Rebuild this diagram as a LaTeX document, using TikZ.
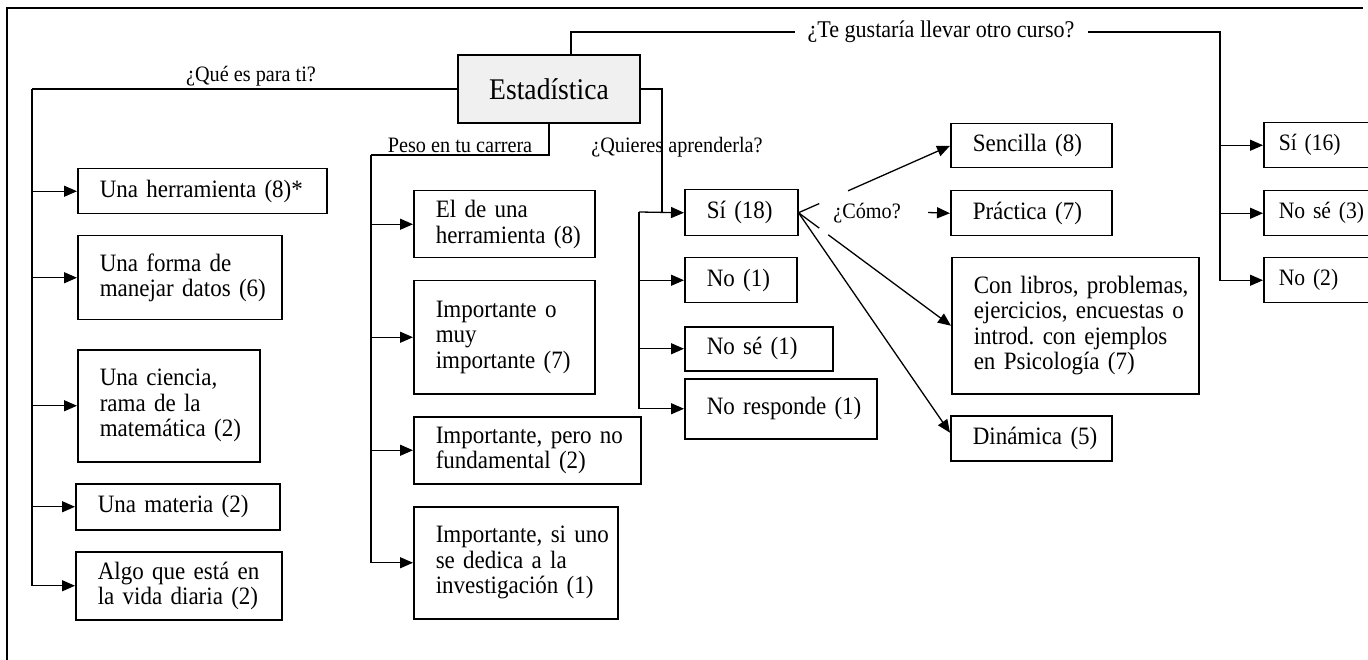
\documentclass[tikz,border=0pt]{standalone}
\usepackage{fontspec}
\setmainfont{Liberation Serif}[FakeStretch=0.92]
\usetikzlibrary{arrows.meta,calc}
\frenchspacing
\newcommand{\oneline}[1]{\mbox{#1}}
\begin{document}
\begin{tikzpicture}[x=1pt,y=-1pt,
  line width=1.3pt,
  box/.style={draw, line width=1.5pt, anchor=north west, inner xsep=22pt, inner ysep=2pt, align=left, font=\fontsize{25}{25.5}\selectfont},
  rbox/.style={box, inner xsep=15pt, text width=125pt, minimum height=45pt, font=\fontsize{23.5}{25}\selectfont},
  lbl/.style={inner sep=1pt, font=\fontsize{22}{23}\selectfont},
  arr/.style={-{Triangle[length=13pt,width=11pt]}},
]
\useasboundingbox (0,0) rectangle (1368,660);
\clip (0,0) rectangle (1368,660);

% outer frame
\draw[line width=1.5pt] (7,662) -- (7,8) -- (1363,8);

% central node
\node[draw, line width=2pt, fill=gray!12, minimum width=182pt, minimum height=68pt,
      font=\fontsize{30}{31}\selectfont] (est) at (549,89) {Estadística};

% column 1: ¿Qué es para ti?
\node[box, text width=205pt, minimum height=45pt] (b1) at (77,168) {\oneline{Una herramienta (8)*}};
\node[box, text width=160pt, minimum height=84pt] (b2) at (77,235) {\oneline{Una forma de}\\\oneline{manejar datos (6)}};
\node[box, text width=138pt, minimum height=112pt] (b3) at (77,349) {\oneline{Una ciencia,}\\\oneline{rama de la}\\\oneline{matemática (2)}};
\node[box, text width=160pt, minimum height=46pt] (b4) at (75,483) {\oneline{Una materia (2)}};
\node[box, text width=162pt, minimum height=68pt] (b5) at (75,551) {\oneline{Algo que está en}\\\oneline{la vida diaria (2)}};

\coordinate (ta) at (32,89);
\draw (est.west) -- (ta);
\draw[arr] (ta) |- (b5.west);
\foreach \n in {b1,b2,b3,b4} \draw[arr] (\n.west -| ta) -- (\n.west);
\node[lbl, anchor=south] (lq) at (251,88) {¿Qué es para ti?};

% column 2: Peso en tu carrera
\node[box, text width=137pt, minimum height=67pt] (p1) at (413,190) {\oneline{El de una}\\\oneline{herramienta (8)}};
\node[box, text width=137pt, minimum height=113pt] (p2) at (413,280) {\oneline{Importante o}\\\oneline{muy}\\\oneline{importante (7)}};
\node[box, text width=183pt, minimum height=67pt] (p3) at (413,416) {\oneline{Importante, pero no}\\\oneline{fundamental (2)}};
\node[box, text width=160pt, minimum height=112pt] (p4) at (413,506) {\oneline{Importante, si uno}\\\oneline{se dedica a la}\\\oneline{investigación (1)}};

\coordinate (tb) at (371,155);
\draw (est.south) |- (tb);
\draw[arr] (tb) |- (p4.west);
\foreach \n in {p1,p2,p3} \draw[arr] (\n.west -| tb) -- (\n.west);
\node[lbl, anchor=south] (lp) at (460,154) {Peso en tu carrera};

% column 3: ¿Quieres aprenderla?
\node[box, text width=69pt, minimum height=46pt] (si) at (684,189) {\oneline{Sí (18)}};
\node[box, text width=68pt, minimum height=45pt] (no) at (684,257) {\oneline{No (1)}};
\node[box, text width=104pt, minimum height=44pt] (nose) at (684,326) {\oneline{No sé (1)}};
\node[box, text width=148pt, minimum height=60pt] (nr) at (684,378) {\oneline{No responde (1)}};

\coordinate (tc) at (662,89);
\coordinate (td) at (639,212);
\draw (est.east) -- (tc) -- (tc |- si.west);
\draw[arr] (td) -- (si.west);
\draw[arr] (td) |- (nr.west);
\foreach \n in {no,nose} \draw[arr] (\n.west -| td) -- (\n.west);
\node[lbl] (lqa) at (677,147) {¿Quieres aprenderla?};

% column 4: ¿Cómo?
\node[box, text width=117pt, minimum height=44pt] (sen) at (950,123) {\oneline{Sencilla (8)}};
\node[box, text width=117pt, minimum height=45pt] (pra) at (950,190) {\oneline{Práctica (7)}};
\node[box, text width=203pt, minimum height=136pt] (lib) at (951,257) {\oneline{Con libros, problemas,}\\\oneline{ejercicios, encuestas o}\\\oneline{introd. con ejemplos}\\\oneline{en Psicología (7)}};
\node[box, text width=117pt, minimum height=45pt] (din) at (950,415) {\oneline{Dinámica (5)}};

\node[lbl] (como) at (867,213) {¿Cómo?};
\coordinate (pa) at (928,212.5);
\draw (si.east) -- ($(si.east)!0.137!(sen.west)$);
\draw[arr] ($(si.east)!0.327!(sen.west)$) -- (sen.west);
\draw (si.east) -- ($(si.east)!0.136!(lib.west)$);
\draw[arr] ($(si.east)!0.195!(lib.west)$) -- (lib.west);
\draw[arr] (si.east) -- ([yshift=5.5pt]din.west);
\draw[arr] (pa) -- (pra.west);

% column 5: ¿Te gustaría llevar otro curso?
\node[rbox] (s16) at (1263,122) {\oneline{Sí (16)}};
\node[rbox] (ns3) at (1263,190) {\oneline{No sé (3)}};
\node[rbox] (n2) at (1263,257) {\oneline{No (2)}};

\coordinate (te) at (1220,32);
\draw[arr] ([xshift=22pt]est.north) |- (te) |- (n2.west);
\foreach \n in {s16,ns3} \draw[arr] (\n.west -| te) -- (\n.west);
\node[lbl, fill=white, inner xsep=13pt, font=\fontsize{24}{25}\selectfont] (lt) at (941,32) {¿Te gustaría llevar otro curso?};
\end{tikzpicture}
\end{document}
